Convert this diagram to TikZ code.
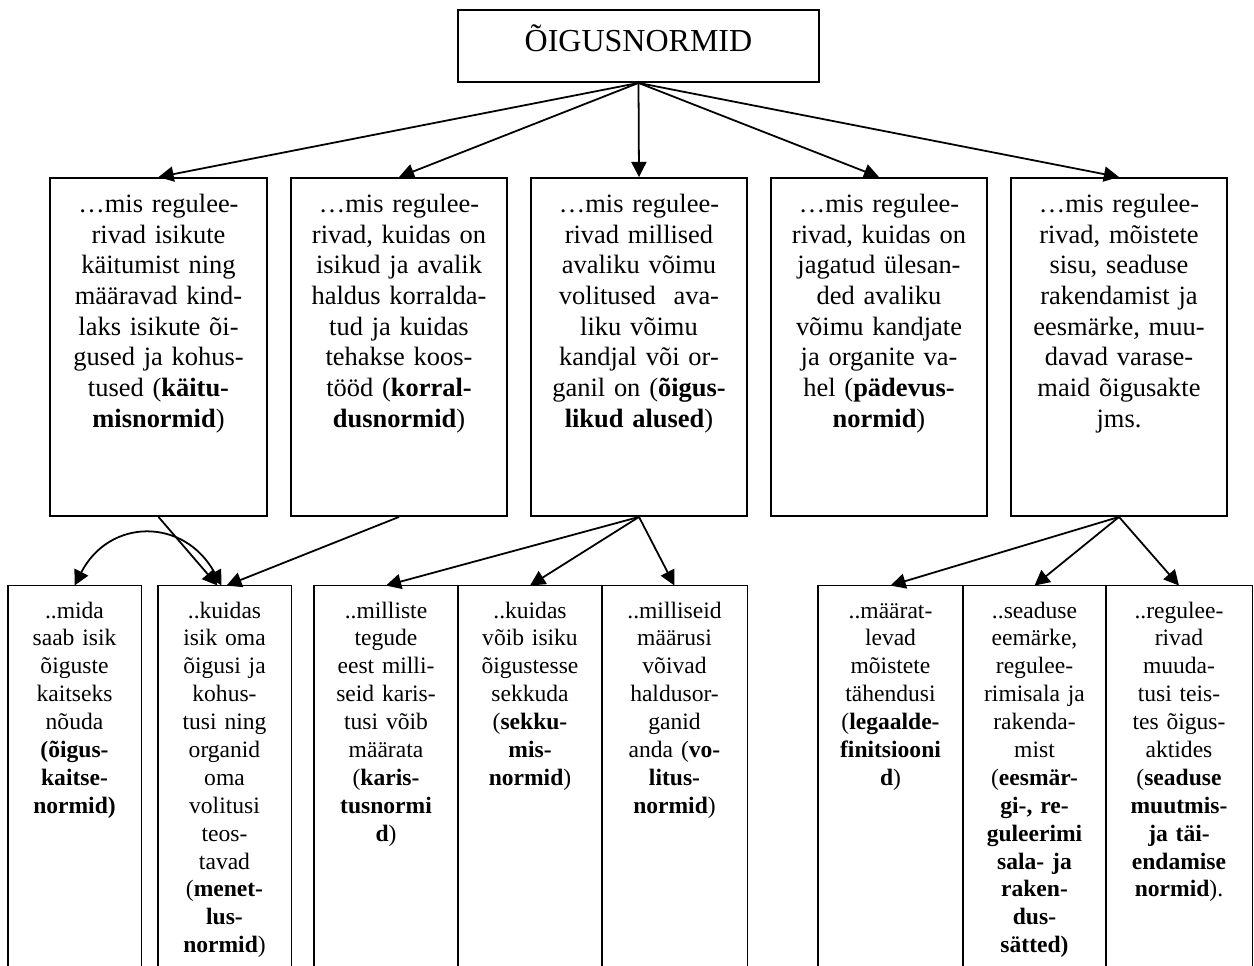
\documentclass[tikz,border=0pt]{standalone}
\usepackage{fontspec}
\setmainfont{Liberation Serif}
\usetikzlibrary{arrows.meta,fit,calc}
\begin{document}
\begin{tikzpicture}[x=0.45pt,y=-0.45pt,
  box/.style={draw,line width=0.85pt,inner sep=0pt},
  zone/.style={inner sep=0pt},
  mtext/.style={anchor=north,inner sep=0pt,align=center,text width=92pt,font=\fontsize{11.9}{13.8}\selectfont},
  btext/.style={anchor=north,inner sep=0pt,align=center,text width=62pt,font=\fontsize{10.6}{12.55}\selectfont},
  arr/.style={line width=0.8pt,-{Triangle[length=6.8pt,width=6.8pt]}},
  dbl/.style={line width=0.8pt,{Triangle[length=6.8pt,width=6.8pt]}-{Triangle[length=6.8pt,width=6.8pt]}},
  openbox/.style={line width=0.85pt}
]
\useasboundingbox (0,0) rectangle (1254,966);

% top
\node[box,fit={(458,10)(819,82)}] (top) {};
\node[anchor=base,inner sep=0pt,font=\fontsize{14.4}{17}\selectfont] (title) at (638.5,52) {ÕIGUSNORMID};

% middle boxes
\node[box,fit={(50,178)(267,516)}] (m1) {};
\node[box,fit={(291,178)(507,516)}] (m2) {};
\node[box,fit={(531,178)(747,516)}] (m3) {};
\node[box,fit={(771,178)(987,516)}] (m4) {};
\node[box,fit={(1011,178)(1227,516)}] (m5) {};

\node[mtext] (m1t) at ($(m1.north)+(0,13.5)$) {\strut …mis regulee-\\rivad isikute\\käitumist ning\\määravad kind-\\laks isikute õi-\\gused ja kohus-\\tused (\textbf{käitu-}\\\textbf{misnormid})};
\node[mtext] (m2t) at ($(m2.north)+(0,13.5)$) {\strut …mis regulee-\\rivad, kuidas on\\isikud ja avalik\\haldus korralda-\\tud ja kuidas\\tehakse koos-\\tööd (\textbf{korral-}\\\textbf{dusnormid})};
\node[mtext] (m3t) at ($(m3.north)+(0,13.5)$) {\strut …mis regulee-\\rivad millised\\avaliku võimu\\volitused\ \ ava-\\liku võimu\\kandjal või or-\\ganil on (\textbf{õigus-}\\\textbf{likud alused})};
\node[mtext] (m4t) at ($(m4.north)+(0,13.5)$) {\strut …mis regulee-\\rivad, kuidas on\\jagatud ülesan-\\ded avaliku\\võimu kandjate\\ja organite va-\\hel (\textbf{pädevus-}\\\textbf{normid})};
\node[mtext] (m5t) at ($(m5.north)+(0,13.5)$) {\strut …mis regulee-\\rivad, mõistete\\sisu, seaduse\\rakendamist ja\\eesmärke, muu-\\davad varase-\\maid õigusakte\\jms.};

% bottom boxes (open at the bottom)
\node[zone,fit={(8,586)(141,966)}] (A) {};
\node[zone,fit={(158,586)(291,966)}] (B) {};
\node[zone,fit={(314,586)(458,966)}] (C) {};
\node[zone,fit={(458,586)(602,966)}] (D) {};
\node[zone,fit={(602,586)(747,966)}] (E) {};
\node[zone,fit={(818,586)(963,966)}] (F) {};
\node[zone,fit={(963,586)(1106,966)}] (G) {};
\node[zone,fit={(1106,586)(1252,966)}] (H) {};
\foreach \b in {A,B,C,D,E,F,G,H}{
  \draw[openbox] (\b.south west) |- (\b.north east) -- (\b.south east);
}

\node[btext] (At) at ($(A.north)+(0,12.5)$) {\strut ..mida\\saab isik\\õiguste\\kaitseks\\nõuda\\\textbf{(õigus-}\\\textbf{kaitse-}\\\textbf{normid)}};
\node[btext] (Bt) at ($(B.north)+(0,12.5)$) {\strut ..kuidas\\isik oma\\õigusi ja\\kohus-\\tusi ning\\organid\\oma\\volitusi\\teos-\\tavad\\(\textbf{menet-}\\\textbf{lus-}\\\textbf{normid})};
\node[btext] (Ct) at ($(C.north)+(0,12.5)$) {\strut ..milliste\\tegude\\eest milli-\\seid karis-\\tusi võib\\määrata\\(\textbf{karis-}\\\textbf{tusnormi}\\\textbf{d})};
\node[btext] (Dt) at ($(D.north)+(0,12.5)$) {\strut ..kuidas\\võib isiku\\õigustesse\\sekkuda\\(\textbf{sekku-}\\\textbf{mis-}\\\textbf{normid})};
\node[btext] (Et) at ($(E.north)+(0,12.5)$) {\strut ..milliseid\\määrusi\\võivad\\haldusor-\\ganid\\anda (\textbf{vo-}\\\textbf{litus-}\\\textbf{normid})};
\node[btext] (Ft) at ($(F.north)+(0,12.5)$) {\strut ..määrat-\\levad\\mõistete\\tähendusi\\(\textbf{legaalde-}\\\textbf{finitsiooni}\\\textbf{d})};
\node[btext] (Gt) at ($(G.north)+(0,12.5)$) {\strut ..seaduse\\eemärke,\\regulee-\\rimisala ja\\rakenda-\\mist\\(\textbf{eesmär-}\\\textbf{gi-, re-}\\\textbf{guleerimi}\\\textbf{sala- ja}\\\textbf{raken-}\\\textbf{dus-}\\\textbf{sätted)}};
\node[btext] (Ht) at ($(H.north)+(0,12.5)$) {\strut ..regulee-\\rivad\\muuda-\\tusi teis-\\tes õigus-\\aktides\\(\textbf{seaduse}\\\textbf{muutmis-}\\\textbf{ja täi-}\\\textbf{endamise}\\\textbf{normid}).};

% connectors
\foreach \m in {m1,m2,m3,m4,m5}{
  \draw[arr] (top.south) -- (\m.north);
}
\draw[arr] (m1.south) -- ($(B.north)+(-7,0)$);
\draw[arr] (m2.south) -- ($(B.north)+(2,0)$);
\draw[dbl] ($(B.north)+(-3,0)$) .. controls +(-37,-68) and +(35,-68) .. (A.north);
\draw[arr] (m3.south) -- (C.north);
\draw[arr] (m3.south) -- (D.north);
\draw[arr] (m3.south) -- (E.north);
\draw[arr] (m5.south) -- (F.north);
\draw[arr] (m5.south) -- (G.north);
\draw[arr] (m5.south) -- (H.north);
\end{tikzpicture}
\end{document}
